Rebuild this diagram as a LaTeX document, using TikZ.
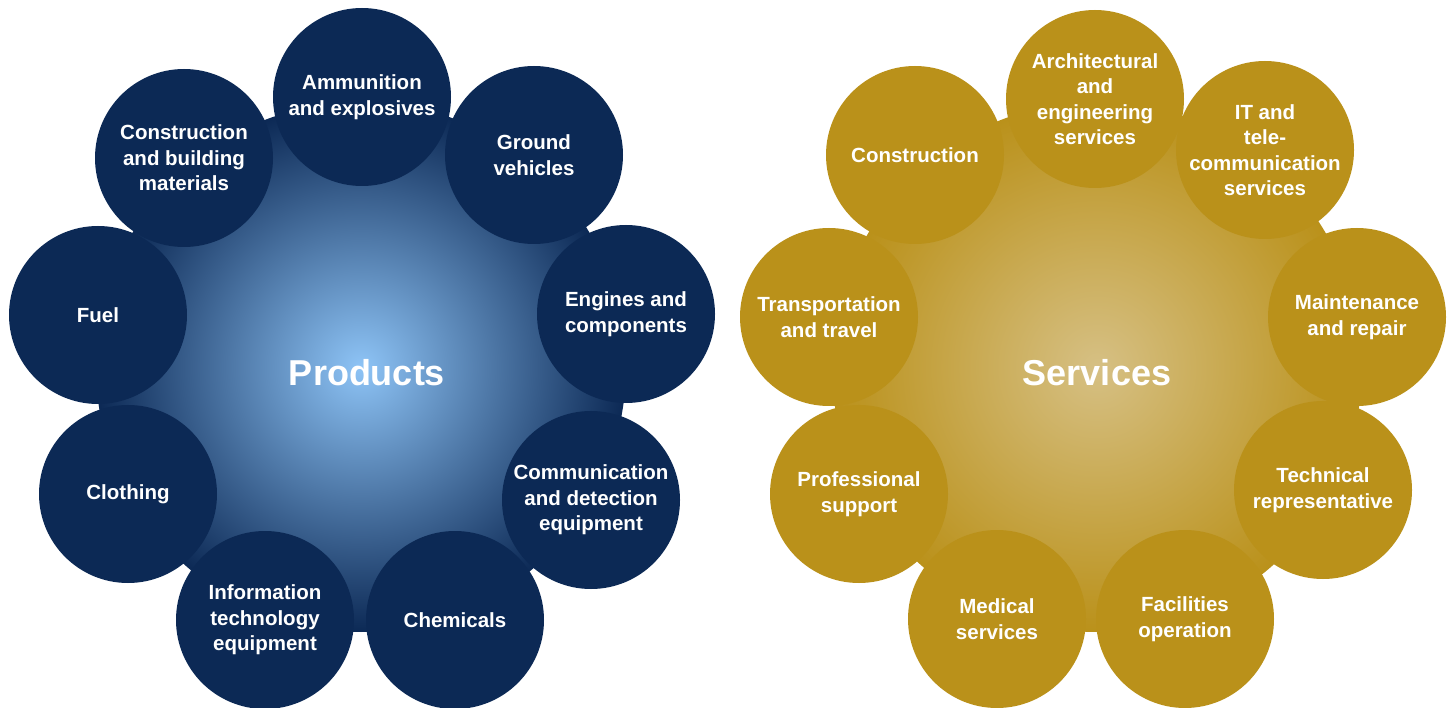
\documentclass[tikz,border=0pt]{standalone}
\usepackage{fontspec}
\setmainfont{Liberation Sans}
\definecolor{navy}{RGB}{12,41,85}
\definecolor{skyc}{RGB}{142,196,246}
\definecolor{goldc}{RGB}{186,145,26}
\definecolor{tanc}{RGB}{214,192,132}
\begin{document}
\begin{tikzpicture}[x=1pt,y=-1pt,
  bub/.style={circle, minimum size=178pt, inner sep=0pt, text=white, align=center,
    font=\bfseries\fontsize{20.5}{25.5}\selectfont},
  pbub/.style={bub, fill=navy},
  sbub/.style={bub, fill=goldc},
  title/.style={text=white, font=\bfseries\fontsize{36}{40}\selectfont}]
\useasboundingbox (0,0) rectangle (1452,708);
\fill[white] (0,0) rectangle (1452,708);
% Products
\shade[inner color=skyc, outer color=navy] (361,367) circle (265pt);
\node[pbub] (amm) at (362,97) {Ammunition\\and explosives};
\node[pbub] (gro) at (534,155) {Ground\\vehicles};
\node[pbub] (eng) at (626,314) {Engines and\\components};
\node[pbub] (com) at (591,500) {Communication\\and detection\\equipment};
\node[pbub] (che) at (455,620) {Chemicals};
\node[pbub] (inf) at (265,620) {Information\\technology\\equipment};
\node[pbub] (clo) at (128,494) {Clothing};
\node[pbub] (fue) at (98,315) {Fuel};
\node[pbub] (con) at (184,158) {Construction\\and building\\materials};
\node[title] (prod) at (367,373) {Products};
% Services
\shade[inner color=tanc, outer color=goldc] (1097,367) circle (265pt);
\node[sbub] (arc) at (1095,99) {Architectural\\and\\engineering\\services};
\node[sbub] (itt) at (1265,150) {IT and\\tele-\\communication\\services};
\node[sbub] (mai) at (1357,317) {Maintenance\\and repair};
\node[sbub] (tec) at (1323,490) {Technical\\representative};
\node[sbub] (fac) at (1185,619) {Facilities\\operation};
\node[sbub] (med) at (997,619) {Medical\\services};
\node[sbub] (pro) at (859,494) {Professional\\support};
\node[sbub] (tra) at (829,317) {Transportation\\and travel};
\node[sbub] (cns) at (915,155) {Construction};
\node[title] (serv) at (1097,373) {Services};
\end{tikzpicture}
\end{document}
